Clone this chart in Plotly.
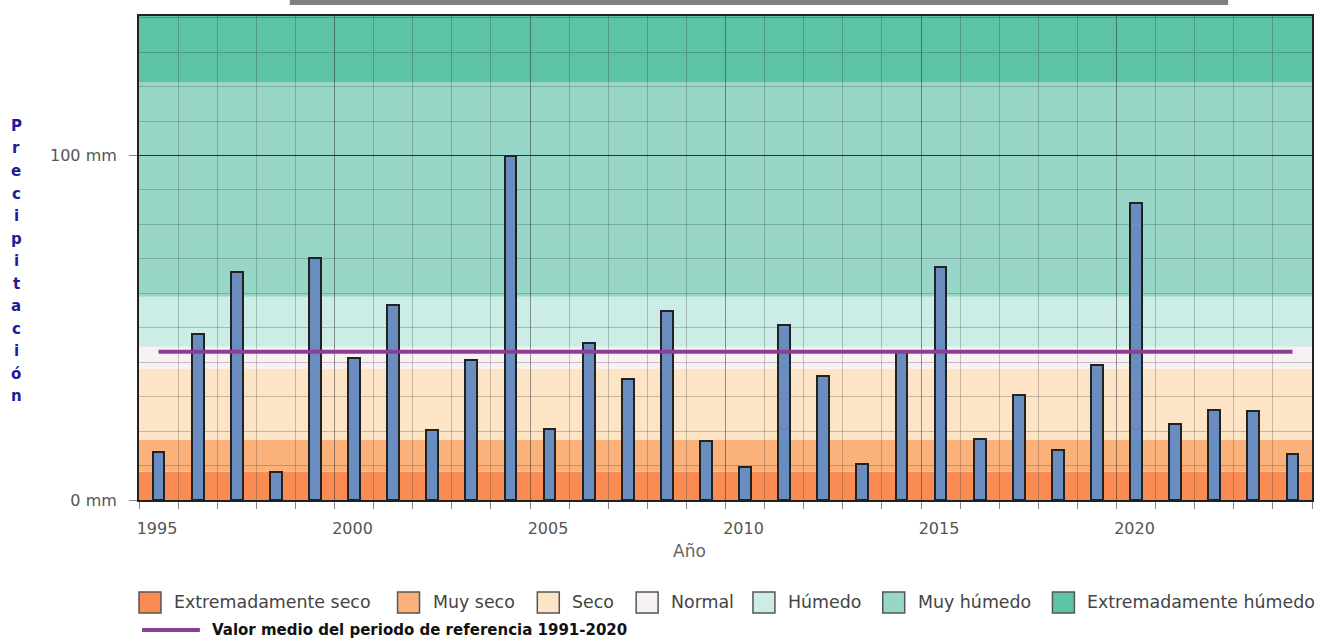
import plotly.graph_objects as go

# ---------------- data ----------------
years = list(range(1995, 2025))
precip = [13.8, 48.2, 66.3, 8.0, 70.3, 41.3, 56.7, 20.3, 40.7, 100.0,
          20.6, 45.6, 35.2, 54.9, 17.2, 9.6, 50.9, 36.0, 10.5, 43.0,
          67.7, 17.7, 30.5, 14.5, 39.2, 86.3, 22.1, 26.0, 25.7, 13.4]
reference_mean = 43.0

band_names = ["Extremadamente seco", "Muy seco", "Seco", "Normal",
              "Húmedo", "Muy húmedo", "Extremadamente húmedo"]
band_limits = [0, 8.2, 17.5, 38.2, 44.5, 59.0, 121.2, 140.5]
band_colors = ["#F98B53", "#FBB27A", "#FDE4C6", "#F7F1F3",
               "#CCEDE6", "#98D7C8", "#5DC3A5"]

ytick_vals = [0, 100]
ytick_text = ["0 mm", "100 mm"]
xtick_vals = [1995, 2000, 2005, 2010, 2015, 2020]
xtick_text = ["1995", "2000", "2005", "2010", "2015", "2020"]
y_title = "Precipitación"
x_title = "Año"
mean_label = "Valor medio del periodo de referencia 1991-2020"

# ---------------- layout helpers ----------------
W, H = 1319, 639
ML, MR, MT, MB = 139, 5, 16, 139
PW, PH = W - ML - MR, H - MT - MB


def px(xp):
    return (xp - ML) / PW


def py(yp):
    return (MT + PH - yp) / PH


FONT = "DejaVu Sans"
fig = go.Figure()

# bars
fig.add_trace(go.Bar(
    x=[y + 0.5 for y in years], y=precip, width=0.3,
    marker=dict(color="#6A8DC0", line=dict(color="#222222", width=2)),
    showlegend=False, hoverinfo="x+y"))

# reference mean line
fig.add_trace(go.Scatter(
    x=[y + 0.5 for y in years], y=[reference_mean] * len(years),
    mode="lines", line=dict(color="#8E3D96", width=4),
    showlegend=False, hoverinfo="skip"))

shapes = []
# background bands
for i, c in enumerate(band_colors):
    shapes.append(dict(type="rect", xref="paper", yref="y", x0=0, x1=1,
                       y0=band_limits[i], y1=band_limits[i + 1],
                       fillcolor=c, line=dict(width=0), layer="below"))

# grey bar at top
shapes.append(dict(type="rect", xref="paper", yref="paper",
                   x0=px(290), x1=px(1230), y0=py(5), y1=py(-2),
                   fillcolor="#808080", line=dict(width=0)))

annotations = []
# legend row 1
sw_left = [139, 398, 538, 637, 754, 884, 1054]
for name, col, xl in zip(band_names, band_colors, sw_left):
    shapes.append(dict(type="rect", xref="paper", yref="paper",
                       x0=px(xl), x1=px(xl + 22), y0=py(613), y1=py(592),
                       fillcolor=col, line=dict(color="#555555", width=1.5)))
    annotations.append(dict(xref="paper", yref="paper", x=px(xl + 33), y=py(602),
                            text=name, showarrow=False, xanchor="left",
                            yanchor="middle",
                            font=dict(family=FONT, size=17.4, color="#444444")))
# legend row 2
shapes.append(dict(type="line", xref="paper", yref="paper",
                   x0=px(142), x1=px(200), y0=py(630), y1=py(630),
                   line=dict(color="#8E3D96", width=4)))
annotations.append(dict(xref="paper", yref="paper", x=px(210), y=py(630),
                        text="<b>" + mean_label + "</b>", showarrow=False,
                        xanchor="left", yanchor="middle",
                        font=dict(family=FONT, size=15, color="#111111")))

# vertical y-axis title letters
for i, ch in enumerate(y_title):
    annotations.append(dict(xref="paper", yref="paper", x=px(16), y=py(126 + i * 22.5),
                            text="<b>" + ch + "</b>", showarrow=False,
                            xanchor="center", yanchor="middle",
                            font=dict(family=FONT, size=15, color="#1B1B9B")))

# x title
annotations.append(dict(xref="paper", yref="paper", x=px(690), y=py(551),
                        text=x_title, showarrow=False, xanchor="center",
                        yanchor="middle",
                        font=dict(family=FONT, size=17, color="#666666")))

fig.update_layout(
    width=W, height=H,
    margin=dict(l=ML, r=MR, t=MT, b=MB),
    paper_bgcolor="white", plot_bgcolor="white",
    shapes=shapes, annotations=annotations,
    showlegend=False, bargap=0,
    xaxis=dict(range=[1995, 2025], tickmode="array", tickvals=xtick_vals,
               ticktext=xtick_text, ticks="outside", ticklen=7,
               tickcolor="#888888", ticklabelshift=18, ticklabelstandoff=6,
               tickfont=dict(family=FONT, size=16, color="#555555"),
               showgrid=True, gridcolor="rgba(40,40,40,0.3)", gridwidth=1,
               minor=dict(dtick=1, tick0=1995, showgrid=True,
                          gridcolor="rgba(40,40,40,0.25)", gridwidth=1,
                          ticks="outside", ticklen=7, tickcolor="#888888"),
               showline=True, linecolor="#222222", linewidth=2, mirror=True,
               zeroline=False, fixedrange=True),
    yaxis=dict(range=[0, 140.5], tickmode="array", tickvals=ytick_vals,
               ticktext=ytick_text, ticks="outside", ticklen=8,
               tickcolor="#888888", ticklabelstandoff=9,
               tickfont=dict(family=FONT, size=16, color="#555555"),
               showgrid=True, gridcolor="rgba(0,0,0,0.7)", gridwidth=1,
               minor=dict(dtick=10, tick0=0, showgrid=True,
                          gridcolor="rgba(40,40,40,0.25)", gridwidth=1),
               showline=True, linecolor="#222222", linewidth=2, mirror=True,
               zeroline=False, fixedrange=True),
)

fig.write_html("out.html",
               config={"displayModeBar": False},
               post_script="document.body.style.margin='0px';"
                           "document.body.style.padding='0px';"
                           "document.body.style.overflow='hidden';")
